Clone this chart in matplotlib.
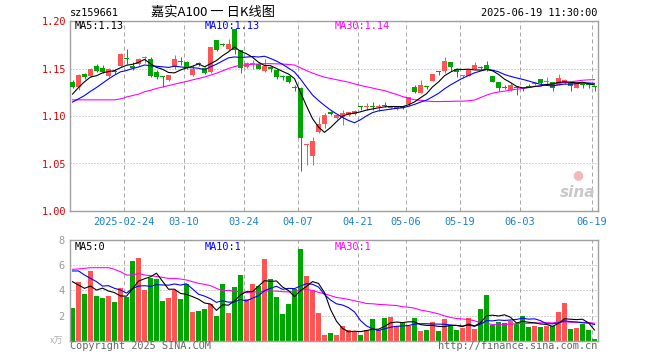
import numpy as np
import pandas as pd
import matplotlib
matplotlib.use("Agg")
import matplotlib.pyplot as plt

# ---------------- data ----------------
opens = [1.136, 1.131, 1.144, 1.142, 1.153, 1.151, 1.142, 1.147, 1.153, 1.161,
         1.153, 1.155, 1.161, 1.160, 1.146, 1.142, 1.138, 1.152, 1.158, 1.157,
         1.143, 1.156, 1.150, 1.146, 1.180, 1.176, 1.171, 1.192, 1.169, 1.152,
         1.155, 1.155, 1.147, 1.152, 1.148, 1.142, 1.142, 1.130, 1.130, 1.069,
         1.058, 1.083, 1.092, 1.104, 1.098, 1.099, 1.101, 1.102, 1.110, 1.109,
         1.110, 1.109, 1.111, 1.108, 1.107, 1.111, 1.113, 1.131, 1.124, 1.132,
         1.137, 1.147, 1.147, 1.157, 1.150, 1.142, 1.142, 1.150, 1.152, 1.154,
         1.142, 1.136, 1.130, 1.127, 1.130, 1.129, 1.132, 1.134, 1.139, 1.136,
         1.136, 1.133, 1.135, 1.135, 1.129, 1.133, 1.134, 1.132]
highs = [1.138, 1.144, 1.145, 1.151, 1.155, 1.154, 1.151, 1.149, 1.166, 1.171,
         1.157, 1.161, 1.163, 1.162, 1.148, 1.142, 1.143, 1.164, 1.162, 1.158,
         1.154, 1.157, 1.152, 1.173, 1.180, 1.177, 1.181, 1.192, 1.169, 1.157,
         1.159, 1.156, 1.160, 1.153, 1.149, 1.143, 1.142, 1.133, 1.131, 1.070,
         1.078, 1.099, 1.103, 1.105, 1.102, 1.106, 1.104, 1.106, 1.110, 1.114,
         1.115, 1.113, 1.115, 1.111, 1.110, 1.111, 1.120, 1.133, 1.138, 1.132,
         1.144, 1.147, 1.162, 1.157, 1.151, 1.143, 1.148, 1.157, 1.153, 1.158,
         1.142, 1.136, 1.133, 1.135, 1.131, 1.129, 1.134, 1.136, 1.139, 1.141,
         1.136, 1.144, 1.139, 1.135, 1.135, 1.135, 1.134, 1.132]
lows = [1.129, 1.127, 1.139, 1.141, 1.146, 1.145, 1.141, 1.144, 1.152, 1.155,
        1.148, 1.154, 1.156, 1.141, 1.139, 1.131, 1.137, 1.150, 1.154, 1.150,
        1.142, 1.153, 1.144, 1.145, 1.168, 1.174, 1.170, 1.165, 1.145, 1.151,
        1.150, 1.149, 1.146, 1.146, 1.139, 1.138, 1.135, 1.126, 1.042, 1.048,
        1.048, 1.082, 1.087, 1.101, 1.097, 1.091, 1.100, 1.101, 1.106, 1.106,
        1.106, 1.105, 1.109, 1.107, 1.106, 1.107, 1.111, 1.124, 1.124, 1.128,
        1.137, 1.143, 1.145, 1.147, 1.141, 1.140, 1.142, 1.150, 1.150, 1.147,
        1.136, 1.126, 1.128, 1.126, 1.122, 1.126, 1.131, 1.133, 1.134, 1.133,
        1.126, 1.133, 1.134, 1.126, 1.129, 1.130, 1.130, 1.126]
closes = [1.131, 1.143, 1.141, 1.150, 1.147, 1.146, 1.150, 1.146, 1.165, 1.160,
          1.151, 1.160, 1.162, 1.142, 1.141, 1.141, 1.143, 1.160, 1.157, 1.152,
          1.150, 1.155, 1.145, 1.173, 1.169, 1.175, 1.176, 1.170, 1.151, 1.156,
          1.156, 1.150, 1.153, 1.150, 1.141, 1.141, 1.136, 1.129, 1.077, 1.070,
          1.074, 1.092, 1.101, 1.102, 1.101, 1.103, 1.104, 1.105, 1.109, 1.110,
          1.109, 1.110, 1.110, 1.111, 1.110, 1.108, 1.120, 1.125, 1.133, 1.131,
          1.144, 1.146, 1.158, 1.152, 1.146, 1.1425, 1.148, 1.154, 1.151, 1.149,
          1.136, 1.129, 1.129, 1.133, 1.129, 1.128, 1.131, 1.135, 1.135, 1.137,
          1.130, 1.140, 1.138, 1.132, 1.135, 1.1325, 1.133, 1.131]
volumes = [2.62, 4.69, 3.71, 5.54, 3.55, 3.39, 3.55, 3.07, 4.21, 3.47,
           6.33, 6.57, 4.03, 4.98, 4.90, 3.15, 3.39, 4.03, 3.31, 4.50,
           2.28, 2.36, 2.52, 2.91, 1.99, 4.50, 2.20, 4.26, 5.22, 3.31,
           4.50, 4.34, 6.49, 4.90, 3.50, 2.12, 2.91, 4.11, 7.28, 5.14,
           4.03, 2.20, 0.45, 0.61, 0.45, 1.17, 0.85, 0.69, 0.45, 0.85,
           1.72, 0.85, 1.80, 1.88, 1.17, 1.48, 1.17, 1.80, 0.77, 0.85,
           1.48, 0.77, 1.72, 1.25, 0.85, 1.01, 1.80, 0.93, 2.52, 3.63,
           1.25, 1.48, 1.40, 1.56, 1.32, 1.96, 1.09, 1.17, 1.09, 1.17,
           1.17, 2.28, 2.99, 0.93, 1.01, 1.32, 0.85, 0.13]

# moving-average values before a full window exists
ma5_head = [1.123, 1.130, 1.136, 1.141]
ma10_head = [1.1147, 1.118, 1.1215, 1.126, 1.130, 1.1345, 1.139, 1.143, 1.1465]
ma30_head = [1.117, 1.117, 1.117, 1.117, 1.117, 1.117, 1.117, 1.117, 1.118, 1.120,
             1.1215, 1.123, 1.1255, 1.127, 1.129, 1.1305, 1.132, 1.1335, 1.135, 1.1364,
             1.138, 1.1395, 1.141, 1.143, 1.145, 1.1475, 1.150, 1.152, 1.1535]
vma5_head = [4.69, 4.42, 4.16, 4.34]
vma10_head = [5.54, 5.54, 5.22, 4.95, 4.69, 4.34, 4.37, 4.16, 4.03]
vma30_head = [5.67, 5.70, 5.75, 5.80, 5.80, 5.80, 5.80, 5.67, 5.48, 5.22,
              5.22, 5.35, 5.22, 5.17, 5.10, 5.03, 4.95, 4.95, 4.90, 4.82,
              4.69, 4.56, 4.48, 4.37, 4.16, 3.97, 4.00, 3.94, 3.89]

tick_idx = [9, 19, 29, 38, 48, 56, 65, 75, 87]
tick_labels = ["2025-02-24", "03-10", "03-24", "04-07", "04-21",
               "05-06", "05-19", "06-03", "06-19"]
price_ticks = [1.00, 1.05, 1.10, 1.15, 1.20]
vol_ticks = [2, 4, 6, 8]

# ---------------- helpers ----------------
def moving_avg(values, n, head):
    s = pd.Series(values, dtype=float).rolling(n).mean().to_numpy()
    s[:len(head)] = head
    return s

W, H = 660, 360
def rect(l, t, r, b):
    return [l / W, 1 - b / H, (r - l) / W, (b - t) / H]

RED = "#ff5454"
GREEN = "#00a600"
GRID = "#a8a8a8"
FRAME = "#a0a0a0"
MONO = "DejaVu Sans Mono"
PX = 0.72  # one pixel in points at dpi 100

n = len(closes)
x = np.arange(n)
colors = [RED if c > o else GREEN for o, c in zip(opens, closes)]
xmin = -5 / 12
xmax = xmin + n

fig = plt.figure(figsize=(6.6, 3.6), dpi=100)
fig.patch.set_facecolor("white")
ax = fig.add_axes(rect(70, 21, 598, 211))
axv = fig.add_axes(rect(70, 240, 598, 340.7))

for a in (ax, axv):
    a.set_xlim(xmin, xmax)
    for s in a.spines.values():
        s.set_color(FRAME)
        s.set_linewidth(1.4 * PX)
    a.tick_params(length=0)
    for t in tick_idx:
        a.axvline(t - 5 / 12, color=GRID, lw=PX, ls=(0, (4, 3)), zorder=0)

# ---------------- price panel ----------------
ax.set_ylim(1.00, 1.20)
for yv in price_ticks[1:-1]:
    ax.axhline(yv, color=GRID, lw=PX, ls=(0, (1, 2)), zorder=0)

ax.vlines(x, lows, highs, colors=colors, lw=PX, zorder=2)
body_h = [max(abs(c - o), 0.0011) for o, c in zip(opens, closes)]
body_b = [min(o, c) for o, c in zip(opens, closes)]
ax.bar(x, body_h, bottom=body_b, width=5 / 6, color=colors, linewidth=0, zorder=3)

ma5 = moving_avg(closes, 5, ma5_head)
ma10 = moving_avg(closes, 10, ma10_head)
ma30 = moving_avg(closes, 30, ma30_head)
ax.plot(x, ma30, color="#ff00ff", lw=1.1 * PX, zorder=4)
ax.plot(x, ma10, color="#0000ff", lw=1.1 * PX, zorder=4)
ax.plot(x, ma5, color="black", lw=1.1 * PX, zorder=5)

ax.set_yticks(price_ticks)
ax.set_yticklabels(["%.2f" % v for v in price_ticks], color="#e00000",
                   fontfamily=MONO, fontsize=7.4)
ax.tick_params(axis="y", pad=3)
ax.set_xticks([t - 5 / 12 for t in tick_idx])
ax.set_xticklabels(tick_labels, color="#1a80d0", fontfamily=MONO, fontsize=7.4)
ax.tick_params(axis="x", pad=4)

ax.text(5 / 528, 1 - 5 / 190, "MA5:%.2f" % ma5[-1], transform=ax.transAxes,
        ha="left", va="center", color="black", fontfamily=MONO, fontsize=7.4)
ax.text(135 / 528, 1 - 5 / 190, "MA10:%.2f" % ma10[-1], transform=ax.transAxes,
        ha="left", va="center", color="#0000ff", fontfamily=MONO, fontsize=7.4)
ax.text(265 / 528, 1 - 5 / 190, "MA30:%.2f" % ma30[-1], transform=ax.transAxes,
        ha="left", va="center", color="#ff00ff", fontfamily=MONO, fontsize=7.4)

# sina watermark
ax.text(0.995, 0.06, "sina", transform=ax.transAxes, ha="right", va="bottom",
        color="#c8c8c8", fontsize=11, fontweight="bold", fontstyle="italic",
        fontfamily="DejaVu Sans", zorder=1)
ax.text(0.962, 0.16, "●", transform=ax.transAxes, ha="center", va="bottom",
        color="#f4b8b8", fontsize=9, zorder=1)

# header texts
fig.text(70 / W, 1 - 13 / H, "sz159661", ha="left", va="center",
         fontfamily=MONO, fontsize=7.4, color="black")
fig.text(213 / W, 1 - 12.5 / H, "嘉实A100 一 日K线图", ha="center", va="center",
         fontfamily=["Noto Sans CJK SC", "DejaVu Sans"], fontsize=9.5, color="black")
fig.text(597 / W, 1 - 13 / H, "2025-06-19 11:30:00", ha="right", va="center",
         fontfamily=MONO, fontsize=7.4, color="black")

# ---------------- volume panel ----------------
axv.set_ylim(0, 8)
for yv in vol_ticks[:-1]:
    axv.axhline(yv, color=GRID, lw=PX, ls=(0, (1, 2)), zorder=0)
axv.bar(x, volumes, width=5 / 6, color=colors, linewidth=0, zorder=2)

vma5 = moving_avg(volumes, 5, vma5_head)
vma10 = moving_avg(volumes, 10, vma10_head)
vma30 = moving_avg(volumes, 30, vma30_head)
axv.plot(x, vma30, color="#ff00ff", lw=1.1 * PX, zorder=4)
axv.plot(x, vma10, color="#0000ff", lw=1.1 * PX, zorder=4)
axv.plot(x, vma5, color="black", lw=1.1 * PX, zorder=5)

axv.set_yticks(vol_ticks)
axv.set_yticklabels([str(v) for v in vol_ticks], color="#999999",
                    fontfamily=MONO, fontsize=7.4)
axv.tick_params(axis="y", pad=4)
axv.set_xticks([])

axv.text(5 / 528, 1 - 7 / 100.7, "MA5:%d" % int(vma5[-1]), transform=axv.transAxes,
         ha="left", va="center", color="black", fontfamily=MONO, fontsize=7.4)
axv.text(135 / 528, 1 - 7 / 100.7, "MA10:%d" % int(vma10[-1]), transform=axv.transAxes,
         ha="left", va="center", color="#0000ff", fontfamily=MONO, fontsize=7.4)
axv.text(265 / 528, 1 - 7 / 100.7, "MA30:%d" % int(vma30[-1]), transform=axv.transAxes,
         ha="left", va="center", color="#ff00ff", fontfamily=MONO, fontsize=7.4)

fig.text(63 / W, 1 - 341 / H, "x万", ha="right", va="center",
         fontfamily=["Noto Sans CJK SC", "DejaVu Sans"], fontsize=6.5,
         color="#b0b0b0", fontstyle="italic")
fig.text(70 / W, 1 - 346 / H, "Copyright 2025 SINA.COM", ha="left", va="center",
         fontfamily=MONO, fontsize=7.4, color="#666666")
fig.text(597 / W, 1 - 346 / H, "http://finance.sina.com.cn", ha="right", va="center",
         fontfamily=MONO, fontsize=7.4, color="#666666")

fig.savefig("out.png", dpi=100, facecolor="white")
